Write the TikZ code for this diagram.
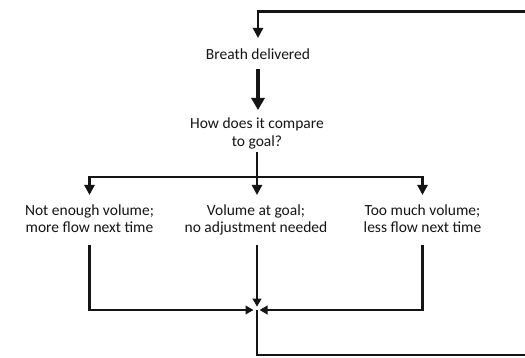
\documentclass[tikz,border=0pt]{standalone}
\usepackage{fontspec}
\setmainfont{Carlito}
\usetikzlibrary{arrows.meta}
\definecolor{ink}{HTML}{151515}
\begin{document}
\begin{tikzpicture}[x=1pt,y=-1pt,
  txt/.style={inner sep=0pt, align=center, anchor=north, text=ink,
    font=\fontsize{15.5}{17.7}\selectfont,
    execute at begin node=\strut, execute at end node=\strut},
  thin/.style={draw=ink, line width=2.7pt},
  thick/.style={draw=ink, line width=4.6pt},
  tipA/.style={-{Triangle[length=10pt,width=10pt]}},
  tipB/.style={-{Triangle[length=12pt,width=13pt]}},
  tipC/.style={-{Triangle[length=8pt,width=8.5pt]}}]
\useasboundingbox (0,0) rectangle (525,358);
\fill[white] (0,0) rectangle (525,358);

\node[txt] (breath) at (258,47.1) {Breath delivered};
\node[txt] (cmp) at (257,117.6) {How does it compare\\to goal?};
\node[txt] (lo) at (89.5,204.3) {Not enough volume;\\more flow next time};
\node[txt] (ok) at (256,204.3) {Volume at goal;\\no adjustment needed};
\node[txt] (hi) at (422.5,204.3) {Too much volume;\\less flow next time};

\coordinate (j) at (257,177);
\coordinate (m) at (257,310);
\coordinate (br) at (545,355);
\coordinate (tr) at (545,11.5);

% breath -> compare
\draw[thick, tipB, shorten <=4.2pt, shorten >=7.6pt] (breath.south) -- (breath.south |- cmp.north);
% compare -> split
\draw[thin, line cap=rect, shorten <=2pt] (cmp.south) -- (j);
\draw[thin, tipA, shorten >=9.3pt] (j) -| (lo.north);
\draw[thin, tipA, shorten >=9.3pt] (j) -- (j |- ok.north);
\draw[thin, tipA, shorten >=9.3pt] (j) -| (hi.north);
% merge
\draw[thin, tipC, shorten <=6.4pt, shorten >=3.5pt] (lo.south) |- (m);
\draw[thin, tipC, shorten <=6.4pt, shorten >=3.3pt] (m |- ok.south) -- (m);
\draw[thin, tipC, shorten <=6.4pt, shorten >=2.5pt] (hi.south) |- (m);
% loop back
\draw[thin, tipA, shorten >=9.1pt] (m) |- (br) -- (tr) -| (breath.north);
\end{tikzpicture}
\end{document}
